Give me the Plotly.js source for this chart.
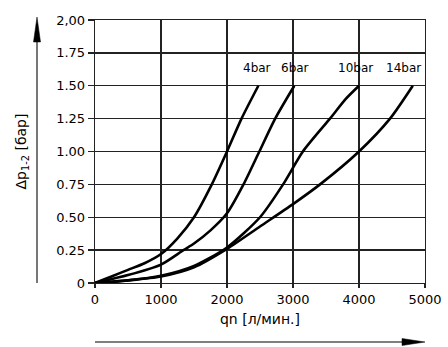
<!DOCTYPE html>
<html><head><meta charset="utf-8">
<script src="https://cdn.plot.ly/plotly-3.0.1.min.js"></script>
<style>html,body{margin:0;padding:0;background:#fff}#c{width:448px;height:347px}</style>
</head><body><div id="c"></div>
<script>
const x4 = [0, 250, 500, 750, 1000, 1250, 1500, 1770, 2000, 2220, 2475];
const y4 = [0, 0.05, 0.10, 0.15, 0.22, 0.34, 0.50, 0.75, 1.00, 1.25, 1.50];
const x6 = [0, 500, 1000, 1340, 1500, 1750, 2000, 2250, 2490, 2730, 3020];
const y6 = [0, 0.06, 0.14, 0.25, 0.30, 0.40, 0.53, 0.75, 1.00, 1.25, 1.50];
const x10 = [0, 500, 1000, 1500, 2000, 2500, 2850, 3150, 3560, 3800, 4000];
const y10 = [0, 0.02, 0.055, 0.13, 0.27, 0.50, 0.75, 1.00, 1.25, 1.40, 1.50];
const x14 = [0, 500, 1000, 1500, 2000, 2500, 3000, 3410, 4000, 4470, 4815];
const y14 = [0, 0.02, 0.05, 0.12, 0.26, 0.43, 0.60, 0.75, 1.00, 1.25, 1.50];
const seriesNames = ['4bar', '6bar', '10bar', '14bar'];
const labelX = [2455, 3030, 3940, 4680];
const labelY = 1.635;
const xTicks = [0, 1000, 2000, 3000, 4000, 5000];
const yTicks = [0, 0.25, 0.5, 0.75, 1, 1.25, 1.5, 1.75, 2];
const yTickText = ['0', '0.25', '0.50', '0.75', '1.00', '1.25', '1.50', '1.75', '2,00'];

const L = 95, R = 425, T = 20, B = 283;
const px = X => (X - L) / (R - L);
const py = Y => (B - Y) / (B - T);

const font = 'DejaVu Sans, sans-serif';
const xs = [x4, x6, x10, x14], ys = [y4, y6, y10, y14];
const traces = xs.map((x, i) => ({
  x: x, y: ys[i], type: 'scatter', mode: 'lines', name: seriesNames[i],
  line: {color: '#000', width: 2.6, shape: 'spline', smoothing: 0.7},
  hoverinfo: 'skip'
}));

const annotations = seriesNames.map((n, i) => ({
  x: labelX[i], y: labelY, xref: 'x', yref: 'y', text: n, showarrow: false,
  font: {family: font, size: 12, color: '#000'}
}));

const shapes = [
  {type: 'line', xref: 'paper', yref: 'paper', x0: px(37), x1: px(37), y0: py(283), y1: py(40),
   line: {color: '#555', width: 1.6}},
  {type: 'path', xref: 'paper', yref: 'paper',
   path: `M ${px(37)} ${py(17)} L ${px(33.5)} ${py(42)} L ${px(40.5)} ${py(42)} Z`,
   fillcolor: '#000', line: {color: '#000', width: 0.5}},
  {type: 'line', xref: 'paper', yref: 'paper', x0: px(95), x1: px(405), y0: py(342), y1: py(342),
   line: {color: '#555', width: 1.6}},
  {type: 'path', xref: 'paper', yref: 'paper',
   path: `M ${px(425)} ${py(342)} L ${px(402)} ${py(338.5)} L ${px(402)} ${py(345.5)} Z`,
   fillcolor: '#000', line: {color: '#000', width: 0.5}}
];

const layout = {
  width: 448, height: 347,
  margin: {l: L, r: 448 - R, t: T, b: 347 - B, pad: 0},
  paper_bgcolor: '#fff', plot_bgcolor: '#fff',
  showlegend: false,
  font: {family: font, size: 13, color: '#000'},
  xaxis: {
    range: [0, 5000], tickvals: xTicks, ticktext: xTicks.map(String),
    showgrid: true, gridcolor: '#222', gridwidth: 1.3,
    showline: true, linecolor: '#222', linewidth: 1.3, mirror: true,
    ticks: 'outside', ticklen: 4, tickcolor: '#222', tickwidth: 1.3,
    zeroline: false, tickfont: {family: font, size: 13},
    title: {text: 'qn [л/мин.]', font: {family: font, size: 14}, standoff: 8}
  },
  yaxis: {
    range: [0, 2], tickvals: yTicks, ticktext: yTickText,
    showgrid: true, gridcolor: '#222', gridwidth: 1.3,
    showline: true, linecolor: '#222', linewidth: 1.3, mirror: true,
    ticks: 'outside', ticklen: 6, tickcolor: '#222', tickwidth: 1.3,
    zeroline: false, tickfont: {family: font, size: 13},
    title: {text: 'Δp<sub>1-2</sub> [бар]', font: {family: font, size: 14}, standoff: 26}
  },
  annotations: annotations,
  shapes: shapes
};

Plotly.newPlot('c', traces, layout, {staticPlot: true, displayModeBar: false});
</script></body></html>
